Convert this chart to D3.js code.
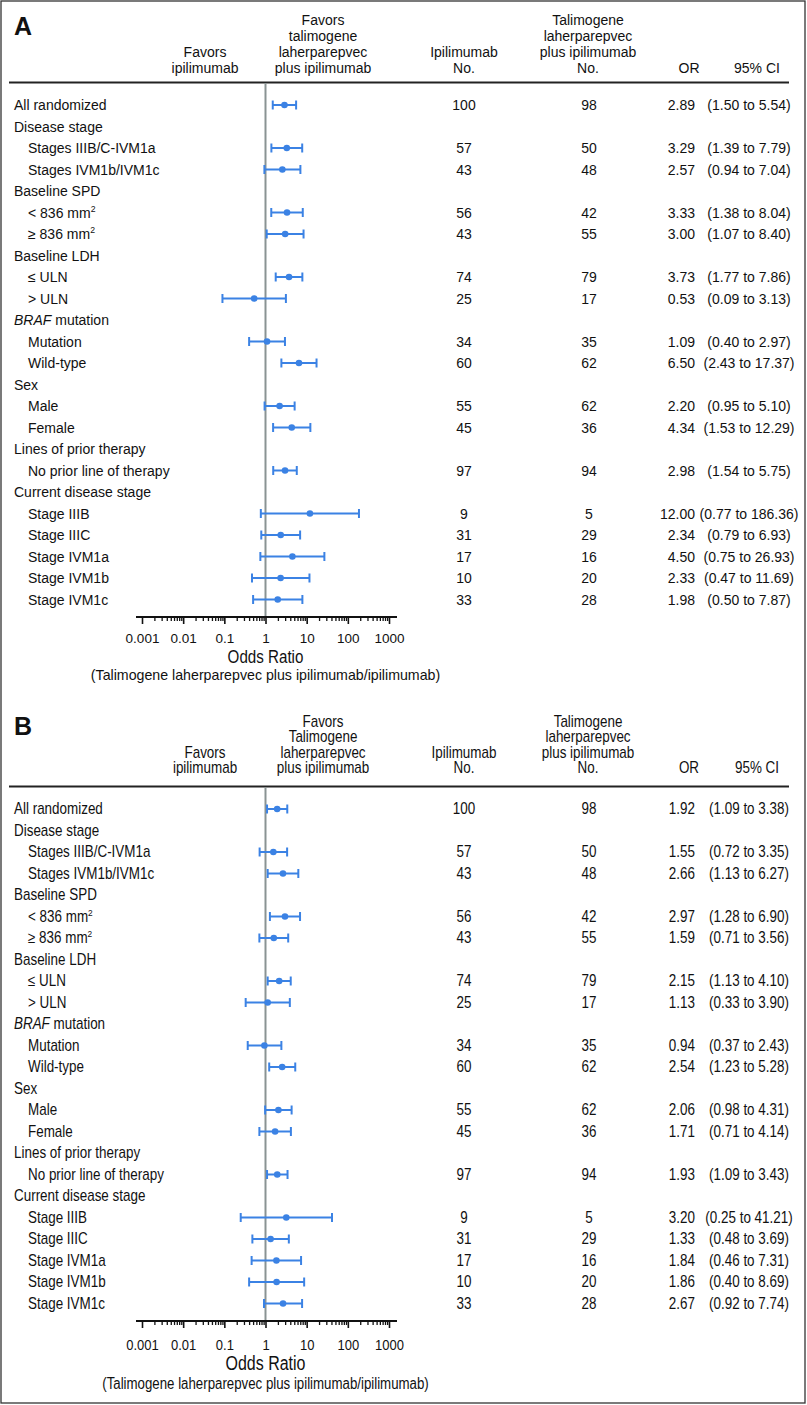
<!DOCTYPE html>
<html><head><meta charset="utf-8">
<script src="https://cdn.jsdelivr.net/npm/d3@7"></script>
<style>
html,body{margin:0;padding:0;background:#fff;}
svg{display:block;}
</style></head>
<body><svg id="c" width="807" height="1405"></svg>
<script>
// ---------- data ----------
const categories = ["All randomized","Disease stage","Stages IIIB/C-IVM1a","Stages IVM1b/IVM1c","Baseline SPD","< 836 mm²","≥ 836 mm²","Baseline LDH","≤ ULN","> ULN","BRAF mutation","Mutation","Wild-type","Sex","Male","Female","Lines of prior therapy","No prior line of therapy","Current disease stage","Stage IIIB","Stage IIIC","Stage IVM1a","Stage IVM1b","Stage IVM1c"];
const rowIndent = [0,0,1,1,0,1,1,0,1,1,0,1,1,0,1,1,0,1,0,1,1,1,1,1];
const ipiN = [100,null,57,43,null,56,43,null,74,25,null,34,60,null,55,45,null,97,null,9,31,17,10,33];
const talN = [98,null,50,48,null,42,55,null,79,17,null,35,62,null,62,36,null,94,null,5,29,16,20,28];

const orA = [2.89,null,3.29,2.57,null,3.33,3.00,null,3.73,0.53,null,1.09,6.50,null,2.20,4.34,null,2.98,null,12.00,2.34,4.50,2.33,1.98];
const loA = [1.50,null,1.39,0.94,null,1.38,1.07,null,1.77,0.09,null,0.40,2.43,null,0.95,1.53,null,1.54,null,0.77,0.79,0.75,0.47,0.50];
const hiA = [5.54,null,7.79,7.04,null,8.04,8.40,null,7.86,3.13,null,2.97,17.37,null,5.10,12.29,null,5.75,null,186.36,6.93,26.93,11.69,7.87];

const orB = [1.92,null,1.55,2.66,null,2.97,1.59,null,2.15,1.13,null,0.94,2.54,null,2.06,1.71,null,1.93,null,3.20,1.33,1.84,1.86,2.67];
const loB = [1.09,null,0.72,1.13,null,1.28,0.71,null,1.13,0.33,null,0.37,1.23,null,0.98,0.71,null,1.09,null,0.25,0.48,0.46,0.40,0.92];
const hiB = [3.38,null,3.35,6.27,null,6.90,3.56,null,4.10,3.90,null,2.43,5.28,null,4.31,4.14,null,3.43,null,41.21,3.69,7.31,8.69,7.74];

const tickValues = [0.001,0.01,0.1,1,10,100,1000];
const tickLabels = ["0.001","0.01","0.1","1","10","100","1000"];
const headerA = [["Favors","ipilimumab"],["Favors","talimogene","laherparepvec","plus ipilimumab"],["Ipilimumab","No."],["Talimogene","laherparepvec","plus ipilimumab","No."],["OR"],["95% CI"]];
const headerB = [["Favors","ipilimumab"],["Favors","Talimogene","laherparepvec","plus ipilimumab"],["Ipilimumab","No."],["Talimogene","laherparepvec","plus ipilimumab","No."],["OR"],["95% CI"]];

// ---------- drawing ----------
const svg = d3.select("#c");
const BLUE = "#3b82e4";
const FONT = "'Liberation Sans', Arial, Helvetica, sans-serif";
svg.append("rect").attr("x",1).attr("y",1).attr("width",804).attr("height",1402)
  .attr("fill","none").attr("stroke","#333").attr("stroke-width",1.3);

const x = d3.scaleLog().domain([0.001,1000]).range([142,389]);
const fmt2 = d => d.toFixed(2);

function txt(g, px, py, s, size, anchor, sx) {
  const t = g.append("text")
    .attr("transform", `translate(${px},${py}) scale(${sx},1)`)
    .attr("text-anchor", anchor || "start")
    .attr("font-size", size)
    .style("font-family", FONT)
    .attr("fill", "#111");
  if (s != null) t.text(s);
  return t;
}

function panel(off, letter, header, OR, LO, HI, o) {
  const g = svg.append("g").attr("transform",`translate(0,${off})`);
  const sx = o.sx, fs = o.fs;
  g.append("text").attr("x",14).attr("y",o.letterY).text(letter)
    .style("font-family",FONT).attr("font-weight","bold").attr("font-size",25).attr("fill","#111");
  // header
  const colX = [205,323,464,588,689,757];
  header.forEach((lines,ci)=>{
    const n = lines.length;
    lines.forEach((t,li)=>{
      txt(g, colX[ci], o.headBase - (n-1-li)*o.headStep, t, fs, "middle", sx);
    });
  });
  g.append("line").attr("x1",9).attr("x2",789).attr("y1",82.5).attr("y2",82.5)
    .attr("stroke","#222").attr("stroke-width",2);

  const yRow = i => 105 + i*21.5;
  const axisY = 617;
  g.append("line").attr("x1",x(1)).attr("x2",x(1)).attr("y1",83).attr("y2",axisY)
    .attr("stroke","#8a9393").attr("stroke-width",2);

  // row labels
  categories.forEach((c,i)=>{
    const t = txt(g, rowIndent[i] ? 28 : 14, yRow(i)+5, null, fs, "start", sx);
    if (c.endsWith("mm²")) {
      t.append("tspan").text(c.slice(0,-1));
      t.append("tspan").attr("font-size",fs*0.62).attr("dy",-6).text("2");
    } else if (c.startsWith("BRAF")) {
      t.append("tspan").attr("font-style","italic").text("BRAF");
      t.append("tspan").text(" mutation");
    } else t.text(c);
  });

  // numbers
  categories.forEach((c,i)=>{
    if (ipiN[i]==null) return;
    const yy = yRow(i)+5;
    txt(g, 464, yy, ipiN[i], fs, "middle", sx);
    txt(g, 589, yy, talN[i], fs, "middle", sx);
    txt(g, 695, yy, fmt2(OR[i]), fs, "end", sx);
    txt(g, 749, yy, `(${fmt2(LO[i])} to ${fmt2(HI[i])})`, fs, "middle", sx);
  });

  // CIs
  const idx = d3.range(categories.length).filter(i => OR[i]!=null);
  const ci = g.append("g").attr("stroke",BLUE).attr("stroke-width",2).attr("fill",BLUE);
  idx.forEach(i=>{
    const yy = yRow(i);
    ci.append("line").attr("x1",x(LO[i])).attr("x2",x(HI[i])).attr("y1",yy).attr("y2",yy);
    ci.append("line").attr("x1",x(LO[i])).attr("x2",x(LO[i])).attr("y1",yy-4.5).attr("y2",yy+4.5);
    ci.append("line").attr("x1",x(HI[i])).attr("x2",x(HI[i])).attr("y1",yy-4.5).attr("y2",yy+4.5);
    ci.append("circle").attr("cx",x(OR[i])).attr("cy",yy).attr("r",3.3).attr("stroke","none");
  });

  // axis
  const ax = g.append("g").attr("transform",`translate(0,${axisY})`);
  ax.append("line").attr("x1",136).attr("x2",397).attr("y1",0).attr("y2",0)
    .attr("stroke","#111").attr("stroke-width",2.2);
  const minors = [];
  for (let e=-3;e<3;e++) for (let m=2;m<10;m++) minors.push(m*Math.pow(10,e));
  const mg = ax.append("g").call(d3.axisBottom(x).tickValues(minors).tickSize(4).tickFormat(""));
  mg.select(".domain").remove();
  mg.selectAll("line").attr("stroke","#111").attr("stroke-width",1.3);
  const jg = ax.append("g").call(d3.axisBottom(x).tickValues(tickValues).tickSize(7)
    .tickFormat((d,i)=>tickLabels[i]).tickPadding(o.tickPad));
  jg.select(".domain").remove();
  jg.selectAll("line").attr("stroke","#111").attr("stroke-width",1.6);
  jg.selectAll("text").attr("font-size",o.tickFs).attr("fill","#111").style("font-family",FONT)
    .attr("transform",`scale(${sx},1)`);

  txt(g, x(1), axisY + o.oddsDy, "Odds Ratio", o.oddsFs, "middle", 0.82);
  txt(g, x(1), axisY + o.subDy, "(Talimogene laherparepvec plus ipilimumab/ipilimumab)", o.subFs, "middle", sx);
}

panel(0,"A",headerA,orA,loA,hiA,{sx:1, fs:14, letterY:35, headBase:73, headStep:16,
  tickPad:9, tickFs:13.5, oddsDy:46, oddsFs:18.5, subDy:63, subFs:14.2});
panel(704,"B",headerB,orB,loB,hiB,{sx:0.84, fs:16, letterY:31, headBase:69, headStep:15.5,
  tickPad:11, tickFs:15.5, oddsDy:49, oddsFs:19.5, subDy:68, subFs:15.8});
</script></body></html>
